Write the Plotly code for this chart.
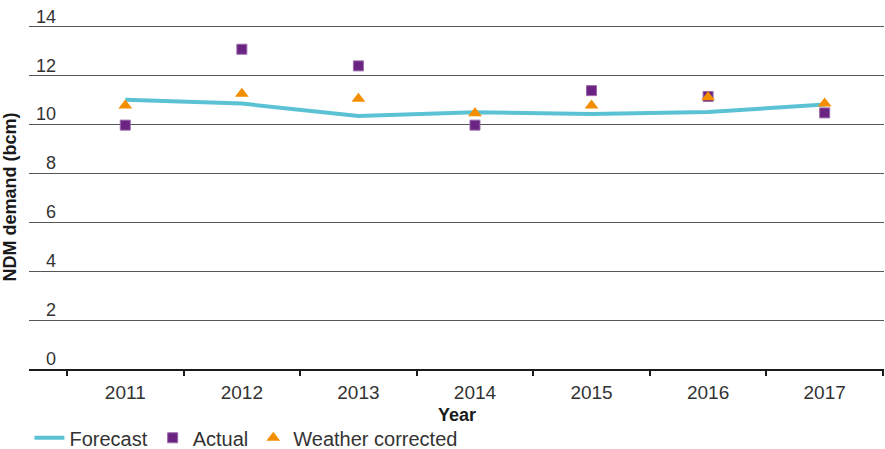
import plotly.graph_objects as go

years = ["2011", "2012", "2013", "2014", "2015", "2016", "2017"]
forecast = [11.0, 10.84, 10.33, 10.49, 10.41, 10.5, 10.8]
actual = [9.96, 13.06, 12.38, 9.96, 11.37, 11.13, 10.46]
weather_corrected = [10.76, 11.24, 11.04, 10.45, 10.76, 11.1, 10.84]
y_ticks = [0, 2, 4, 6, 8, 10, 12, 14]

FONT = "Liberation Sans, Arial, sans-serif"
TXT = "#333333"

fig = go.Figure()
fig.add_trace(go.Scatter(x=years, y=forecast, name="Forecast", mode="lines",
                         line=dict(color="#5bc2d4", width=4)))
fig.add_trace(go.Scatter(x=years, y=actual, name="Actual", mode="markers",
                         marker=dict(symbol="square", size=10, color="#6a2382",
                                     line=dict(width=1, color="#9a6aab"))))
fig.add_trace(go.Scatter(x=years, y=weather_corrected, name="Weather corrected", mode="markers",
                         marker=dict(symbol="triangle-up", size=12, color="#f28e00",
                                     line=dict(width=0))))

fig.update_layout(
    width=885, height=449,
    margin=dict(l=29, r=1, t=25, b=80, autoexpand=False),
    paper_bgcolor="white", plot_bgcolor="white",
    font=dict(family=FONT, size=18, color=TXT),
    showlegend=True,
    legend=dict(orientation="h", x=0.0005, xanchor="left", yref="container", y=0.025,
                yanchor="middle", font=dict(size=20, color=TXT), bgcolor="rgba(0,0,0,0)",
                itemwidth=30, tracegroupgap=0),
    annotations=[dict(text="<b>Year</b>", xref="paper", yref="paper", x=0.5, y=-0.134,
                      xanchor="center", yanchor="middle", showarrow=False,
                      font=dict(size=18, color="#1a1a1a"))],
)
fig.update_xaxes(
    type="category", range=[-0.826, 6.509], tickson="boundaries", automargin=False,
    ticks="outside", ticklen=5, tickwidth=2, tickcolor="#1a1a1a", ticklabelstandoff=5,
    showline=True, linewidth=2, linecolor="#1a1a1a", showgrid=False,
    tickfont=dict(size=19, color=TXT),
)
fig.update_yaxes(
    range=[0, 14.05], tickvals=y_ticks, ticktext=[str(v) for v in y_ticks], automargin=False,
    showgrid=True, gridcolor="#555555", gridwidth=1, zeroline=False, showline=False,
    ticks="", ticklabelposition="outside", ticklabelstandoff=-28, ticklabelshift=-10,
    tickfont=dict(size=18, color=TXT),
    title=dict(text="<b>NDM demand (bcm)</b>", font=dict(size=18, color="#1a1a1a")),
)

fig.write_html("out.html", config={"displayModeBar": False},
               post_script="document.body.style.margin='0';document.body.style.padding='0';")
